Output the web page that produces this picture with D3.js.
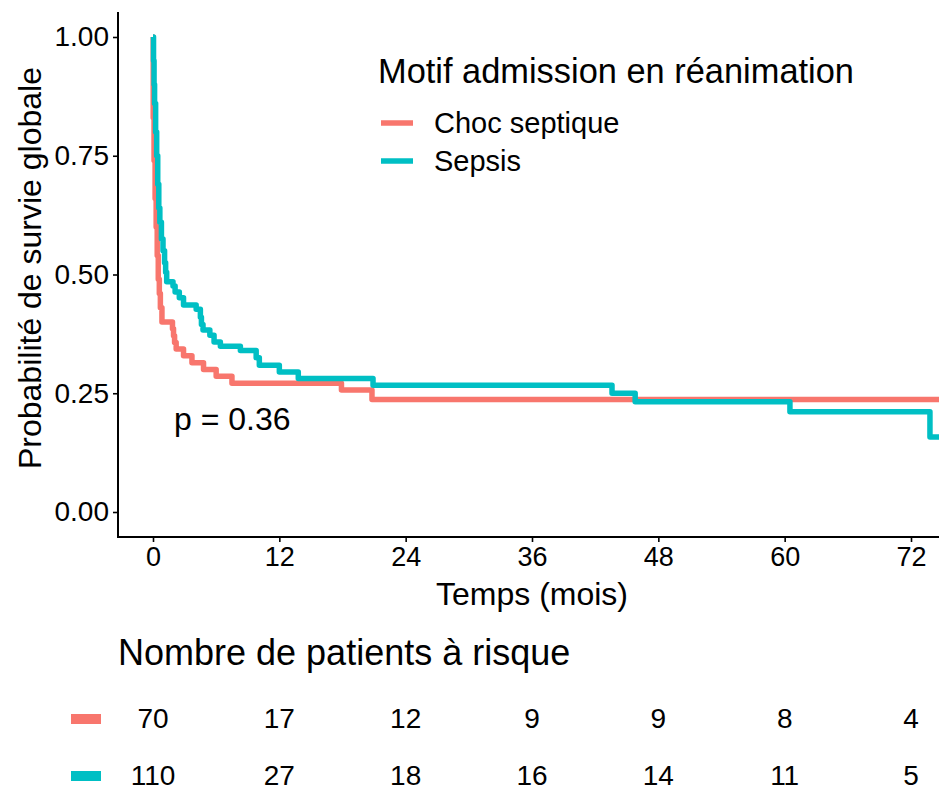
<!DOCTYPE html>
<html>
<head>
<meta charset="utf-8">
<script src="https://cdn.jsdelivr.net/npm/d3@7"></script>
<style>
  html, body { margin: 0; padding: 0; background: #fff; }
  svg { display: block; }
  text { font-family: "Liberation Sans", Arial, sans-serif; fill: #000; }
</style>
</head>
<body>
<svg id="chart" width="939" height="791"></svg>
<script>
// ---------------- DATA ----------------
const groups = ["Choc septique", "Sepsis"];
const colors = ["#F8766D", "#00BFC4"];

// Kaplan-Meier steps: [time (months), survival]
const chocTimes = [0, 0.02, 0.1, 0.2, 0.3, 0.4, 0.5, 0.6, 0.7, 0.85, 1.85, 1.95, 2.05, 2.2, 2.9, 3.7, 4.8, 6.0, 7.5, 17.9, 20.8, 76];
const chocSurv  = [1, 0.83, 0.74, 0.66, 0.60, 0.54, 0.49, 0.46, 0.43, 0.40, 0.386, 0.371, 0.357, 0.343, 0.329, 0.314, 0.300, 0.286, 0.271, 0.257, 0.237, 0.237];

const sepsisTimes = [0, 0.05, 0.1, 0.15, 0.25, 0.35, 0.45, 0.55, 0.65, 0.8, 0.95, 1.1, 1.2, 1.3, 1.9, 2.1, 2.5, 2.9, 4.1, 4.5, 4.6, 4.75, 5.4, 5.8, 6.4, 8.3, 9.8, 10.1, 12.0, 13.8, 20.9, 43.6, 45.8, 60.5, 73.8, 76];
const sepsisSurv  = [1, 0.95, 0.90, 0.86, 0.80, 0.75, 0.69, 0.64, 0.61, 0.575, 0.55, 0.525, 0.505, 0.485, 0.476, 0.463, 0.451, 0.436, 0.427, 0.41, 0.395, 0.383, 0.372, 0.358, 0.349, 0.34, 0.325, 0.309, 0.295, 0.281, 0.267, 0.25, 0.232, 0.211, 0.158, 0.158];

const xTicks = [0, 12, 24, 36, 48, 60, 72];
const yTicks = [0, 0.25, 0.5, 0.75, 1];

const riskChoc   = [70, 17, 12, 9, 9, 8, 4];
const riskSepsis = [110, 27, 18, 16, 14, 11, 5];

const pLabel = "p = 0.36";
const legendTitle = "Motif admission en réanimation";
const xTitle = "Temps (mois)";
const yTitle = "Probabilité de survie globale";
const riskTitle = "Nombre de patients à risque";

// ---------------- LAYOUT ----------------
const svg = d3.select("#chart");
const panel = { left: 118, right: 939, top: 12, bottom: 537 };

const x = d3.scaleLinear().domain([0, 72]).range([153, 911]);
const y = d3.scaleLinear().domain([0, 1]).range([512, 37]);

svg.append("defs").append("clipPath").attr("id", "clip")
  .append("rect")
  .attr("x", panel.left).attr("y", panel.top)
  .attr("width", panel.right - panel.left).attr("height", panel.bottom - panel.top);

// curves
const series = [
  { name: groups[0], color: colors[0], pts: chocTimes.map((t, i) => [t, chocSurv[i]]) },
  { name: groups[1], color: colors[1], pts: sepsisTimes.map((t, i) => [t, sepsisSurv[i]]) }
];
const line = d3.line().x(d => x(d[0])).y(d => y(d[1])).curve(d3.curveStepAfter);

const g = svg.append("g").attr("clip-path", "url(#clip)");
series.forEach(s => {
  g.append("path")
    .attr("d", line(s.pts))
    .attr("fill", "none")
    .attr("stroke", s.color)
    .attr("stroke-width", 5.5)
    .attr("stroke-linejoin", "round")
    .attr("stroke-linecap", "butt");
});

// axes
const yAxis = d3.axisLeft(y).tickValues(yTicks).tickFormat(d3.format(".2f")).tickSize(5).tickPadding(4);
const yg = svg.append("g").attr("transform", `translate(${panel.left},0)`).call(yAxis);
yg.select(".domain").remove();
yg.selectAll(".tick line").attr("stroke", "#000").attr("stroke-width", 1.6);
yg.selectAll(".tick text").attr("font-size", 28).attr("font-family", "Liberation Sans, Arial, sans-serif").attr("fill", "#000");

const xAxis = d3.axisBottom(x).tickValues(xTicks).tickFormat(d3.format("d")).tickSize(5).tickPadding(5);
const xg = svg.append("g").attr("transform", `translate(0,${panel.bottom})`).call(xAxis);
xg.select(".domain").remove();
xg.selectAll(".tick line").attr("stroke", "#000").attr("stroke-width", 1.6);
xg.selectAll(".tick text").attr("font-size", 27).attr("font-family", "Liberation Sans, Arial, sans-serif").attr("fill", "#000");

// axis lines
svg.append("line").attr("x1", panel.left).attr("x2", panel.left)
  .attr("y1", panel.top).attr("y2", panel.bottom + 1)
  .attr("stroke", "#000").attr("stroke-width", 2);
svg.append("line").attr("x1", panel.left - 1).attr("x2", panel.right)
  .attr("y1", panel.bottom).attr("y2", panel.bottom)
  .attr("stroke", "#000").attr("stroke-width", 2);

// axis titles
svg.append("text").attr("x", 532).attr("y", 605).attr("text-anchor", "middle")
  .attr("font-size", 32).text(xTitle);
svg.append("text").attr("transform", `translate(41,268) rotate(-90)`)
  .attr("text-anchor", "middle").attr("font-size", 32).text(yTitle);

// p-value
svg.append("text").attr("x", 174).attr("y", 430).attr("font-size", 32).text(pLabel);

// legend
svg.append("text").attr("x", 378).attr("y", 83).attr("font-size", 34.4).text(legendTitle);
series.forEach((s, i) => {
  const cy = 123 + i * 38;
  svg.append("line").attr("x1", 381).attr("x2", 413).attr("y1", cy).attr("y2", cy)
    .attr("stroke", s.color).attr("stroke-width", 5.5);
  svg.append("text").attr("x", 434).attr("y", cy + 10).attr("font-size", 29).text(s.name);
});

// risk table
svg.append("text").attr("x", 118).attr("y", 665).attr("font-size", 36).text(riskTitle);
const riskRows = [riskChoc, riskSepsis];
riskRows.forEach((row, i) => {
  const cy = 719 + i * 57;
  svg.append("rect").attr("x", 71).attr("y", cy - 5).attr("width", 30).attr("height", 10)
    .attr("fill", colors[i]);
  svg.selectAll(null).data(row).enter().append("text")
    .attr("x", (d, j) => x(xTicks[j]))
    .attr("y", cy + 9)
    .attr("text-anchor", "middle")
    .attr("font-size", 28)
    .text(d => d);
});
</script>
</body>
</html>
